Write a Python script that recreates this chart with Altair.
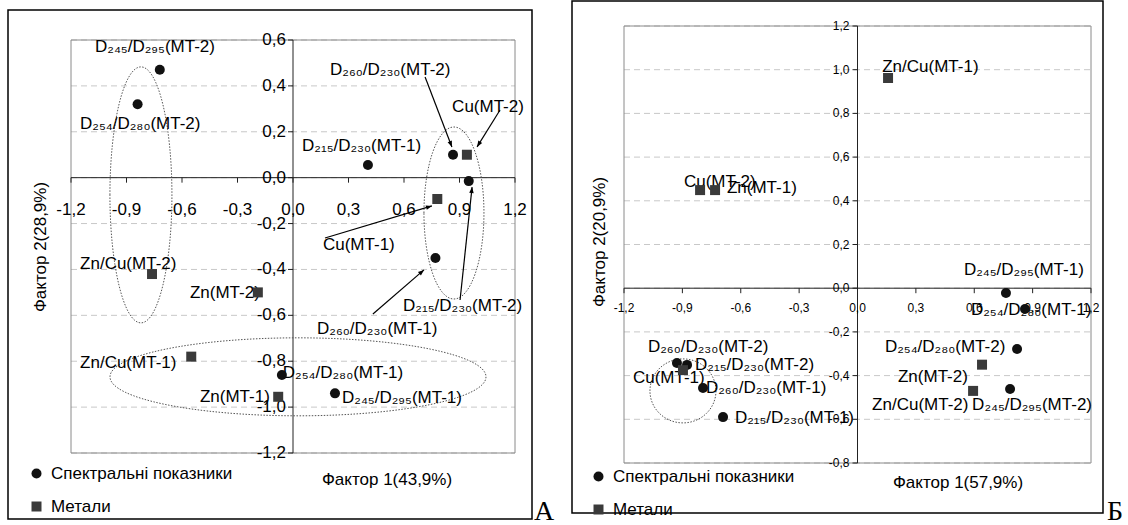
import math
import altair as alt
import pandas as pd

FONT = "Liberation Sans"
KINDS = ["Спектральні показники", "Метали"]
W, H = 1128, 525

# ---------------- Panel A ----------------
a_names = ["D₂₄₅/D₂₉₅(MT-2)", "D₂₅₄/D₂₈₀(MT-2)", "D₂₁₅/D₂₃₀(MT-1)", "D₂₆₀/D₂₃₀(MT-2)",
           "D₂₁₅/D₂₃₀(MT-2)", "D₂₆₀/D₂₃₀(MT-1)", "D₂₅₄/D₂₈₀(MT-1)", "D₂₄₅/D₂₉₅(MT-1)",
           "Cu(MT-2)", "Cu(MT-1)", "Zn/Cu(MT-2)", "Zn(MT-2)", "Zn/Cu(MT-1)", "Zn(MT-1)"]
a_kind = [KINDS[0]] * 8 + [KINDS[1]] * 6
a_x = [-0.72, -0.84, 0.405, 0.865, 0.95, 0.77, -0.06, 0.227,
       0.94, 0.78, -0.762, -0.19, -0.55, -0.08]
a_y = [0.47, 0.32, 0.055, 0.10, -0.015, -0.35, -0.86, -0.94,
       0.10, -0.093, -0.42, -0.50, -0.78, -0.955]
a_label_x = [-1.07, -1.151, 0.049, 0.20, 0.595, 0.13, -0.055, 0.265,
             0.86, 0.162, -1.151, -0.557, -1.151, -0.503]
a_label_y = [0.57, 0.234, 0.138, 0.47, -0.56, -0.66, -0.85, -0.96,
             0.31, -0.293, -0.376, -0.503, -0.808, -0.956]
a_arrow_x1 = [0.714, 1.119, 0.173, 0.903, 0.432]
a_arrow_y1 = [0.439, 0.295, -0.263, -0.533, -0.594]
a_arrow_x2 = [0.859, 0.995, 0.751, 0.968, 0.708]
a_arrow_y2 = [0.134, 0.134, -0.123, -0.041, -0.402]
a_ell_cx = [-0.822, 0.87, 0.027]
a_ell_cy = [-0.075, -0.154, -0.868]
a_xdomain = [-1.2, 1.2]
a_ydomain = [-1.2, 0.6]
a_xticks = [-1.2, -0.9, -0.6, -0.3, 0.0, 0.3, 0.6, 0.9, 1.2]
a_yticks = [-1.2, -1.0, -0.8, -0.6, -0.4, -0.2, 0.0, 0.2, 0.4, 0.6]
a_xtick_labels = ["-1,2", "-0,9", "-0,6", "-0,3", "0,0", "0,3", "0,6", "0,9", "1,2"]
a_ytick_labels = ["-1,2", "-1,0", "-0,8", "-0,6", "-0,4", "-0,2", "0,0", "0,2", "0,4", "0,6"]

# ---------------- Panel B ----------------
b_names = ["D₂₄₅/D₂₉₅(MT-1)", "D₂₅₄/D₂₈₀(MT-1)", "D₂₅₄/D₂₈₀(MT-2)", "D₂₄₅/D₂₉₅(MT-2)",
           "D₂₆₀/D₂₃₀(MT-2)", "D₂₁₅/D₂₃₀(MT-2)", "D₂₆₀/D₂₃₀(MT-1)", "D₂₁₅/D₂₃₀(MT-1)",
           "Zn/Cu(MT-1)", "Cu(MT-2)", "Zn(MT-1)", "Cu(MT-1)", "Zn(MT-2)", "Zn/Cu(MT-2)"]
b_kind = [KINDS[0]] * 8 + [KINDS[1]] * 6
b_x = [0.763, 0.861, 0.82, 0.784, -0.928, -0.876, -0.794, -0.691,
       0.157, -0.809, -0.732, -0.897, 0.64, 0.594]
b_y = [-0.022, -0.095, -0.278, -0.461, -0.342, -0.351, -0.457, -0.59,
       0.962, 0.449, 0.449, -0.375, -0.35, -0.47]
b_label_x = [0.547, 0.583, 0.141, 0.589, -1.077, -0.835, -0.779, -0.63,
             0.127, -0.892, -0.671, -1.154, 0.208, 0.075]
b_label_y = [0.085, -0.10, -0.269, -0.534, -0.269, -0.351, -0.457, -0.594,
             1.012, 0.486, 0.458, -0.411, -0.406, -0.534]
b_ell_cx = [-0.897]
b_ell_cy = [-0.47]
b_xdomain = [-1.2, 1.2]
b_ydomain = [-0.8, 1.2]
b_xticks = [-1.2, -0.9, -0.6, -0.3, 0.0, 0.3, 0.6, 0.9, 1.2]
b_yticks = [-0.8, -0.6, -0.4, -0.2, 0.0, 0.2, 0.4, 0.6, 0.8, 1.0, 1.2]
b_xtick_labels = ["-1,2", "-0,9", "-0,6", "-0,3", "0,0", "0,3", "0,6", "0,9", "1,2"]
b_ytick_labels = ["-0,8", "-0,6", "-0,4", "-0,2", "0,0", "0,2", "0,4", "0,6", "0,8", "1,0", "1,2"]

ARROW = "M0,0L-0.38,1L0.38,1Z"
TICK_DOWN = "M0,0L0,1"
TICK_LEFT = "M0,0L-1,0"
AXIS_COLOR = "#222222"


def ellipse_path(rx, ry):
    k = ry / rx
    return f"M-1,0A1,{k:.4f} 0 1,1 1,0A1,{k:.4f} 0 1,1 -1,0Z"


def panel(names, kind, xs, ys, lxs, lys, xdom, ydom, xticks, yticks, xtl, ytl,
          xrange_px, yrange_px, tick_font, xlab_dy, ylab_dx,
          xtitle, xtitle_pos, ytitle, ytitle_pos,
          ellipses, arrows, frame, letter, legend_pos):
    xscale = alt.Scale(domain=xdom, range=xrange_px, nice=False, zero=False)
    yscale = alt.Scale(domain=ydom, range=yrange_px, nice=False, zero=False)
    sx = (xrange_px[1] - xrange_px[0]) / (xdom[1] - xdom[0])
    sy = (yrange_px[0] - yrange_px[1]) / (ydom[1] - ydom[0])

    def X(f):
        return alt.X(f, scale=xscale, axis=None)

    def Y(f):
        return alt.Y(f, scale=yscale, axis=None)

    one = pd.DataFrame({"k": [0]})
    layers = []

    # horizontal dashed gridlines
    gdf = pd.DataFrame({"x0": [xdom[0]] * len(yticks), "x1": [xdom[1]] * len(yticks), "y": yticks})
    layers.append(alt.Chart(gdf).mark_rule(color="#c8c8c8", strokeWidth=1, strokeDash=[6, 4]).encode(
        x=X("x0:Q"), x2="x1:Q", y=Y("y:Q")))

    # plot-area border
    bdf = pd.DataFrame({"x0": [xdom[0]], "x1": [xdom[1]], "y0": [ydom[1]], "y1": [ydom[0]]})
    layers.append(alt.Chart(bdf).mark_rect(fillOpacity=0, stroke="#8a8a8a", strokeWidth=1).encode(
        x=X("x0:Q"), x2="x1:Q", y=Y("y0:Q"), y2="y1:Q"))

    # axis lines through zero
    hdf = pd.DataFrame({"x0": [xdom[0]], "x1": [xdom[1]], "y": [0.0]})
    layers.append(alt.Chart(hdf).mark_rule(color=AXIS_COLOR, strokeWidth=1).encode(
        x=X("x0:Q"), x2="x1:Q", y=Y("y:Q")))
    vdf = pd.DataFrame({"x": [0.0], "y0": [ydom[0]], "y1": [ydom[1]]})
    layers.append(alt.Chart(vdf).mark_rule(color=AXIS_COLOR, strokeWidth=1).encode(
        x=X("x:Q"), y=Y("y0:Q"), y2="y1:Q"))

    # ticks
    xtdf = pd.DataFrame({"x": xticks, "y": [0.0] * len(xticks), "t": xtl})
    ytdf = pd.DataFrame({"x": [0.0] * len(yticks), "y": yticks, "t": ytl})
    layers.append(alt.Chart(xtdf).mark_point(shape=TICK_DOWN, size=100, filled=False, color=AXIS_COLOR,
                                             strokeWidth=1, opacity=1).encode(x=X("x:Q"), y=Y("y:Q")))
    layers.append(alt.Chart(ytdf).mark_point(shape=TICK_LEFT, size=100, filled=False, color=AXIS_COLOR,
                                             strokeWidth=1, opacity=1).encode(x=X("x:Q"), y=Y("y:Q")))
    # tick labels
    layers.append(alt.Chart(xtdf).mark_text(font=FONT, fontSize=tick_font, color="black", align="center",
                                            baseline="top", dy=xlab_dy).encode(
        x=X("x:Q"), y=Y("y:Q"), text="t:N"))
    layers.append(alt.Chart(ytdf).mark_text(font=FONT, fontSize=tick_font, color="black", align="right",
                                            baseline="middle", dx=ylab_dx).encode(
        x=X("x:Q"), y=Y("y:Q"), text="t:N"))

    # axis titles
    layers.append(alt.Chart(one).mark_text(font=FONT, fontSize=17, color="black", align="center",
                                           baseline="middle").encode(
        x=alt.value(xtitle_pos[0]), y=alt.value(xtitle_pos[1]), text=alt.value(xtitle)))
    layers.append(alt.Chart(one).mark_text(font=FONT, fontSize=17, color="black", align="center",
                                           baseline="middle", angle=270).encode(
        x=alt.value(ytitle_pos[0]), y=alt.value(ytitle_pos[1]), text=alt.value(ytitle)))

    # outer frame
    layers.append(alt.Chart(one).mark_rect(fillOpacity=0, stroke="black", strokeWidth=1.5).encode(
        x=alt.value(frame[0]), x2=alt.value(frame[1]), y=alt.value(frame[2]), y2=alt.value(frame[3])))

    # dotted ellipses
    for (cx, cy, rx, ry) in ellipses:
        edf = pd.DataFrame({"cx": [cx], "cy": [cy]})
        layers.append(alt.Chart(edf).mark_point(
            shape=ellipse_path(rx, ry), size=(2 * rx) ** 2, filled=False, color="#555555",
            strokeWidth=1, strokeDash=[1.5, 1.5], opacity=1).encode(x=X("cx:Q"), y=Y("cy:Q")))

    # arrows
    if arrows:
        ax1, ay1, ax2, ay2 = arrows
        ang = [math.degrees(math.atan2((b - a) * sx, (d - c) * sy)) % 360
               for a, b, c, d in zip(ax1, ax2, ay1, ay2)]
        adf = pd.DataFrame({"x1": ax1, "y1": ay1, "x2": ax2, "y2": ay2, "ang": ang})
        layers.append(alt.Chart(adf).mark_rule(color="black", strokeWidth=1.2).encode(
            x=X("x1:Q"), y=Y("y1:Q"), x2="x2:Q", y2="y2:Q"))
        layers.append(alt.Chart(adf).mark_point(shape=ARROW, filled=True, color="black",
                                                size=144, opacity=1).encode(
            x=X("x2:Q"), y=Y("y2:Q"), angle=alt.Angle("ang:Q", scale=None)))

    # point labels
    df = pd.DataFrame({"x": xs, "y": ys, "kind": kind, "name": names, "lx": lxs, "ly": lys})
    layers.append(alt.Chart(df).mark_text(align="left", baseline="middle", font=FONT,
                                          fontSize=17, color="black").encode(
        x=X("lx:Q"), y=Y("ly:Q"), text="name:N"))

    # points + legend
    leg = alt.Legend(title=None, orient="none", legendX=legend_pos[0], legendY=legend_pos[1],
                     labelFont=FONT, labelFontSize=17, labelColor="black", labelLimit=400,
                     symbolSize=100, rowPadding=15, padding=0, labelOffset=6, symbolStrokeWidth=0)
    layers.append(alt.Chart(df).mark_point(filled=True, size=100, opacity=1).encode(
        x=X("x:Q"), y=Y("y:Q"),
        color=alt.Color("kind:N", scale=alt.Scale(domain=KINDS, range=["#111111", "#3a3a3a"]), legend=leg),
        shape=alt.Shape("kind:N", scale=alt.Scale(domain=KINDS, range=["circle", "square"]), legend=leg)))

    # panel letter
    layers.append(alt.Chart(one).mark_text(font="Liberation Serif", fontSize=28, align="left",
                                           baseline="alphabetic", color="black").encode(
        x=alt.value(letter[1]), y=alt.value(letter[2]), text=alt.value(letter[0])))
    return alt.layer(*layers)


panel_a = panel(a_names, a_kind, a_x, a_y, a_label_x, a_label_y, a_xdomain, a_ydomain,
                a_xticks, a_yticks, a_xtick_labels, a_ytick_labels,
                [71, 515], [453, 40], 17, 24, -7,
                "Фактор 1(43,9%)", (387, 480), "Фактор 2(28,9%)", (41, 247),
                [(a_ell_cx[0], a_ell_cy[0], 31, 128), (a_ell_cx[1], a_ell_cy[1], 30, 86),
                 (a_ell_cx[2], a_ell_cy[2], 188, 39)],
                (a_arrow_x1, a_arrow_y1, a_arrow_x2, a_arrow_y2),
                (8, 532, 10, 519), ("А", 534, 520), (28, 465))

panel_b = panel(b_names, b_kind, b_x, b_y, b_label_x, b_label_y, b_xdomain, b_ydomain,
                b_xticks, b_yticks, b_xtick_labels, b_ytick_labels,
                [624, 1091], [463, 26], 12, 15, -8,
                "Фактор 1(57,9%)", (958, 483), "Фактор 2(20,9%)", (600, 242),
                [(b_ell_cx[0], b_ell_cy[0], 33, 32)],
                None,
                (572, 1103, 1, 513), ("Б", 1107, 520), (590, 468))

chart = alt.layer(panel_a, panel_b).resolve_scale(
    x="independent", y="independent", color="independent", shape="independent"
).properties(
    width=W, height=H, padding=0, autosize=alt.AutoSizeParams(type="none")
).configure_view(strokeOpacity=0)

chart.save("out.html", embed_options={"renderer": "svg", "actions": False})
